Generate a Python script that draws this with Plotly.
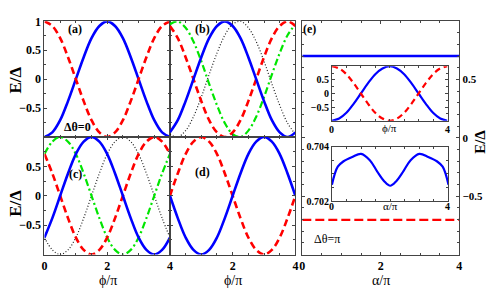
import plotly.graph_objects as go

# ---------------- data ----------------
phi = [0, 0.25, 0.5, 0.75, 1, 1.25, 1.5, 1.75, 2, 2.25, 2.5, 2.75, 3, 3.25, 3.5, 3.75, 4]

a_blue = [-1, -0.92, -0.71, -0.38, 0, 0.38, 0.71, 0.92, 1, 0.92, 0.71, 0.38, 0, -0.38, -0.71, -0.92, -1]
a_red = [1, 0.92, 0.71, 0.38, 0, -0.38, -0.71, -0.92, -1, -0.92, -0.71, -0.38, 0, 0.38, 0.71, 0.92, 1]

b_blue = [-0.92, -0.71, -0.38, 0, 0.38, 0.71, 0.92, 1, 0.92, 0.71, 0.38, 0, -0.38, -0.71, -0.92, -1, -0.92]
b_red = [0.92, 0.71, 0.38, 0, -0.38, -0.71, -0.92, -1, -0.92, -0.71, -0.38, 0, 0.38, 0.71, 0.92, 1, 0.92]
b_green = [0.95, 1.0, 0.89, 0.65, 0.31, -0.08, -0.45, -0.76, -0.95, -1.0, -0.89, -0.65, -0.31, 0.08, 0.45, 0.76, 0.95]
b_black = [-0.95, -1.0, -0.89, -0.65, -0.31, 0.08, 0.45, 0.76, 0.95, 1.0, 0.89, 0.65, 0.31, -0.08, -0.45, -0.76, -0.95]

c_blue = [-0.71, -0.38, 0, 0.38, 0.71, 0.92, 1, 0.92, 0.71, 0.38, 0, -0.38, -0.71, -0.92, -1, -0.92, -0.71]
c_red = [0.71, 0.38, 0, -0.38, -0.71, -0.92, -1, -0.92, -0.71, -0.38, 0, 0.38, 0.71, 0.92, 1, 0.92, 0.71]
c_green = [0.71, 0.92, 1, 0.92, 0.71, 0.38, 0, -0.38, -0.71, -0.92, -1, -0.92, -0.71, -0.38, 0, 0.38, 0.71]
c_black = [-0.71, -0.92, -1, -0.92, -0.71, -0.38, 0, 0.38, 0.71, 0.92, 1, 0.92, 0.71, 0.38, 0, -0.38, -0.71]

d_blue = [0, -0.38, -0.71, -0.92, -1, -0.92, -0.71, -0.38, 0, 0.38, 0.71, 0.92, 1, 0.92, 0.71, 0.38, 0]
d_red = [0, 0.38, 0.71, 0.92, 1, 0.92, 0.71, 0.38, 0, -0.38, -0.71, -0.92, -1, -0.92, -0.71, -0.38, 0]

alpha_main = [0, 4]
e_blue = [0.703, 0.703]
e_red = [-0.703, -0.703]

inset1_blue = [-1, -0.92, -0.71, -0.38, 0, 0.38, 0.71, 0.92, 1, 0.92, 0.71, 0.38, 0, -0.38, -0.71, -0.92, -1]
inset1_red = [1, 0.92, 0.71, 0.38, 0, -0.38, -0.71, -0.92, -1, -0.92, -0.71, -0.38, 0, 0.38, 0.71, 0.92, 1]

alpha_in = [0, 0.2, 0.4, 0.7, 1.0, 1.3, 1.55, 1.8, 2.0, 2.2, 2.45, 2.7, 3.0, 3.3, 3.6, 3.8, 4.0]
inset2_blue = [0.70260, 0.70326, 0.70346, 0.70362, 0.70373, 0.70350, 0.70309, 0.70272, 0.70256,
               0.70272, 0.70309, 0.70350, 0.70373, 0.70362, 0.70346, 0.70326, 0.70260]

# ---------------- layout helpers ----------------
W, H = 491, 294
FONT = "Liberation Serif"
BLUE = "rgb(0,0,255)"
RED = "rgb(255,0,0)"
GREEN = "rgb(0,230,0)"


def dx(x0, x1):
    return [x0 / W, x1 / W]


def dy(y0, y1):  # pixel top, pixel bottom
    return [1 - y1 / H, 1 - y0 / H]


fig = go.Figure()


def blue(x, y, ax, width=2.6):
    fig.add_trace(go.Scatter(x=x, y=y, mode="lines", xaxis="x" + ax, yaxis="y" + ax,
                             line=dict(color=BLUE, width=width, shape="spline"), showlegend=False))


def red(x, y, ax, width=2.6, dash="7px,4px"):
    fig.add_trace(go.Scatter(x=x, y=y, mode="lines", xaxis="x" + ax, yaxis="y" + ax,
                             line=dict(color=RED, width=width, dash=dash, shape="spline"), showlegend=False))


def green(x, y, ax):
    fig.add_trace(go.Scatter(x=x, y=y, mode="lines", xaxis="x" + ax, yaxis="y" + ax,
                             line=dict(color=GREEN, width=2.2, dash="7px,3px,2px,3px", shape="spline"),
                             showlegend=False))


def black(x, y, ax):
    fig.add_trace(go.Scatter(x=x, y=y, mode="lines", xaxis="x" + ax, yaxis="y" + ax,
                             line=dict(color="rgb(30,30,30)", width=1.2, dash="1px,2px", shape="spline"),
                             showlegend=False))


# panel (a)
blue(phi, a_blue, "")
red(phi, a_red, "")
# panel (b)
black(phi, b_black, "2")
green(phi, b_green, "2")
red(phi, b_red, "2")
blue(phi, b_blue, "2")
# panel (c)
black(phi, c_black, "3")
green(phi, c_green, "3")
red(phi, c_red, "3")
blue(phi, c_blue, "3")
# panel (d)
red(phi, d_red, "4")
blue(phi, d_blue, "4")
# panel (e)
blue(alpha_main, e_blue, "5", width=2.4)
red(alpha_main, e_red, "5", width=2.4, dash="9px,4px")
# insets
blue(phi, inset1_blue, "6", width=2.2)
red(phi, inset1_red, "6", width=2.2, dash="6px,4px")
blue(alpha_in, inset2_blue, "7", width=2.2)

LINE = "#444"
tickf = dict(family=FONT, size=12, color="black", weight="bold")
tickf_right = dict(family=FONT, size=11, color="black", weight="bold")
tickf_small = dict(family=FONT, size=10, color="black", weight="bold")


def xax(domain, anchor, small=False, showlabels=True, ttext=None):
    d = dict(domain=domain, anchor=anchor, range=[0, 4], showgrid=False, zeroline=False,
             showline=True, mirror="allticks", linecolor=LINE, linewidth=1,
             ticks="inside", ticklen=3, tickcolor=LINE,
             tickvals=[0, 2, 4] if not small else [0, 4],
             minor=dict(ticks="inside", ticklen=2, tickcolor=LINE, dtick=0.5),
             showticklabels=showlabels, tickfont=tickf_small if small else tickf)
    if ttext is not None:
        d["ticktext"] = ttext
    return d


def yax(domain, anchor, tickvals, rng=(-1, 1), font=None, showlabels=True, side="left", ttext=None, mdt=0.25):
    d = dict(domain=domain, anchor=anchor, range=list(rng), showgrid=False, zeroline=False,
             showline=True, mirror="allticks", linecolor=LINE, linewidth=1,
             ticks="inside", ticklen=3, tickcolor=LINE, tickvals=tickvals, side=side,
             minor=dict(ticks="inside", ticklen=2, tickcolor=LINE, dtick=mdt),
             showticklabels=showlabels, tickfont=font or tickf)
    if ttext is not None:
        d["ticktext"] = ttext
    return d


ya = dy(15, 136)
yc = dy(136, 259)
xa = dx(42, 169)
xb = dx(169, 296)
xe = dx(303, 462)
ye = dy(15, 259)

fig.update_layout(
    width=W, height=H, margin=dict(l=0, r=0, t=0, b=0),
    paper_bgcolor="white", plot_bgcolor="white", showlegend=False,
    xaxis=xax(xa, "y", showlabels=False),
    yaxis=yax(ya, "x", [-1, -0.5, 0, 0.5, 1], ttext=["", "\u22120.5", "0", "0.5", "1"]),
    xaxis2=xax(xb, "y2", showlabels=False),
    yaxis2=yax(ya, "x2", [-1, -0.5, 0, 0.5, 1], showlabels=False),
    xaxis3=xax(xa, "y3"),
    yaxis3=yax(yc, "x3", [-1, -0.5, 0, 0.5, 1], ttext=["", "\u22120.5", "0", "0.5", ""]),
    xaxis4=xax(xb, "y4", ttext=["", "2", "4"]),
    yaxis4=yax(yc, "x4", [-1, -0.5, 0, 0.5, 1], showlabels=False),
    xaxis5=xax(xe, "y5"),
    yaxis5=yax(ye, "x5", [-0.5, 0, 0.5], side="right", font=tickf_right,
               ttext=["\u22120.5", "0", "0.5"], mdt=0.1),
    xaxis6=xax(dx(333, 450), "y6", small=True, showlabels=False),
    yaxis6=yax(dy(62, 119), "x6", [-0.5, 0, 0.5], font=tickf_small, ttext=["\u22120.5", "0", "0.5"]),
    xaxis7=xax(dx(333, 451), "y7", small=True, showlabels=False),
    yaxis7=yax(dy(146, 203), "x7", [0.702, 0.704], rng=(0.702, 0.704), font=tickf_small,
               ttext=["0.702", "0.704"], mdt=0.0005),
)


def ann(text, x, y, size=12, bold=True, angle=0, xanchor="center"):
    fig.add_annotation(text=("<b>%s</b>" % text) if bold else text, x=x / W, y=1 - y / H,
                       xref="paper", yref="paper", showarrow=False, textangle=angle,
                       xanchor=xanchor, yanchor="middle",
                       font=dict(family=FONT, size=size, color="black"))


ann("(a)", 73, 23, 12)
ann("(b)", 202, 23, 12)
ann("(c)", 73, 175, 12)
ann("(d)", 202, 173, 12)
ann("(e)", 310, 23, 12)
ann("\u0394\u03b8=0", 75, 126, 12)
ann("\u0394\u03b8=\u03c0", 328, 243, 12, bold=False)
ann("E/\u0394", 13, 76, 17, angle=-90)
ann("E/\u0394", 13, 205, 17, angle=-90)
ann("E/\u0394", 483, 141, 15, angle=-90)
ann("\u03d5/\u03c0", 106, 286, 14, bold=False)
ann("\u03d5/\u03c0", 233, 286, 14, bold=False)
ann("\u03b1/\u03c0", 383, 286, 14, bold=False)
# inset tick labels / titles
ann("0", 333, 128, 10)
ann("4", 450, 128, 10)
ann("\u03d5/\u03c0", 391, 127, 11, bold=False)
ann("0", 333, 209, 10)
ann("4", 450, 209, 10)
ann("\u03b1/\u03c0", 392, 208, 11, bold=False)

fig.write_html("out.html", config={"displayModeBar": False},
               post_script="document.body.style.margin='0';document.body.style.overflow='hidden';")
